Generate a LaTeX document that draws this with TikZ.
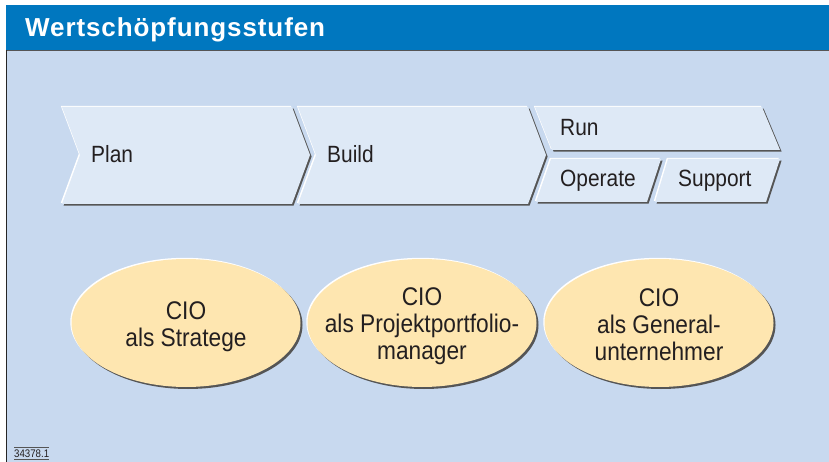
\documentclass[tikz,border=0pt]{standalone}
\usepackage{fontspec}
\setmainfont{Liberation Sans}
\newfontfamily\chevfont[FakeStretch=0.89]{Liberation Sans}
\newfontfamily\ellfont[FakeStretch=0.89]{Liberation Sans}
\newfontfamily\smallfont[FakeStretch=0.88]{Liberation Sans}
\newfontfamily\titlefont[LetterSpace=3.5]{Liberation Sans}
\usetikzlibrary{shadows,shapes.geometric}
\definecolor{bgblue}{RGB}{200,217,239}
\definecolor{titleblue}{RGB}{0,119,191}
\definecolor{chevfill}{RGB}{222,233,246}
\definecolor{ellfill}{RGB}{254,230,176}
\definecolor{shadowgray}{RGB}{85,85,85}
\definecolor{textdark}{RGB}{35,31,32}
\tikzset{
  chev/.style={fill=chevfill,
    general shadow={fill=white, shadow xshift=-1.2pt, shadow yshift=1.2pt},
    general shadow={fill=shadowgray, shadow xshift=1.6pt, shadow yshift=-1.6pt}},
  chevlabel/.style={anchor=base west, inner sep=0pt, text=textdark,
    font=\chevfont\fontsize{23.5}{26}\selectfont},
  ell/.style={ellipse, minimum width=229pt, minimum height=128pt, inner sep=0pt,
    fill=ellfill,
    general shadow={fill=white, shadow xshift=-1.2pt, shadow yshift=1.2pt},
    general shadow={fill=shadowgray, shadow xshift=2pt, shadow yshift=-2pt}},
  elltext/.style={inner sep=0pt, align=center, text=textdark,
    font=\ellfont\fontsize{25.5}{27}\selectfont}
}
\begin{document}
\begin{tikzpicture}[x=1pt,y=-1pt]
\useasboundingbox (0,0) rectangle (829,462);
\fill[white] (0,0) rectangle (829,462);
\fill[bgblue] (6,50) rectangle (829,462);
\fill[titleblue] (6,5) rectangle (829,50);
\draw[shadowgray, line width=0.8pt] (6,50.4) -- (829,50.4);
\draw[black!85, line width=1pt] (6.5,50) -- (6.5,462);
\node[anchor=base west, inner sep=0pt, text=white,
  font=\titlefont\bfseries\fontsize{26}{30}\selectfont] (title) at (25,36.5) {Wertschöpfungsstufen};

% chevrons
\path[chev] (62,107) -- (292,107) -- (310,155) -- (292,204) -- (62,204) -- (80,155) -- cycle;
\path[chev] (298,107) -- (528,107) -- (546,155) -- (528,204) -- (298,204) -- (316,155) -- cycle;
\path[chev] (535,107) -- (762,107) -- (780,150) -- (552,150) -- cycle;
\path[chev] (551,159) -- (661,159) -- (647,202) -- (536,202) -- cycle;
\path[chev] (668,159) -- (780,159) -- (766,202) -- (655,202) -- cycle;

\node[chevlabel] (plan) at (91,163) {Plan};
\node[chevlabel] (build) at (327,163) {Build};
\node[chevlabel] (run) at (560,136) {Run};
\node[chevlabel] (operate) at (560,187) {Operate};
\node[chevlabel] (support) at (678,187) {Support};

% ellipses
\node[ell] (e1) at (186,323) {};
\node[ell] (e2) at (422,323) {};
\node[ell] (e3) at (659,323) {};
\node[elltext] (t1) at ([yshift=-4pt]e1.center) {CIO\\als Stratege};
\node[elltext] (t2) at ([yshift=-3pt]e2.center) {CIO\\als Projektportfolio-\\manager};
\node[elltext] (t3) at ([yshift=-2pt]e3.center) {CIO\\als General-\\unternehmer};

% figure number
\node[anchor=base west, inner sep=0pt, text=textdark,
  font=\smallfont\fontsize{11}{13}\selectfont] (num) at (14,457) {34378.1};
\draw[shadowgray, line width=0.8pt] ([yshift=2pt]num.north west) -- ([yshift=2pt]num.north east);
\draw[shadowgray, line width=0.8pt] ([yshift=-2.5pt]num.base west) -- ([yshift=-2.5pt]num.base east);
\end{tikzpicture}
\end{document}
